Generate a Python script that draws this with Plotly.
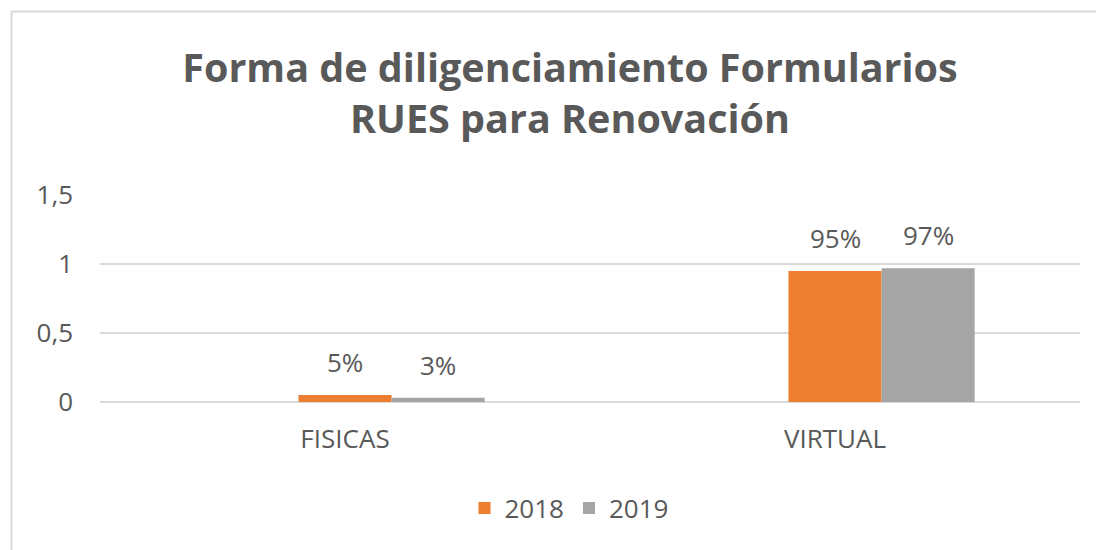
import plotly.graph_objects as go

categories = ["FISICAS", "VIRTUAL"]
series_names = ["2018", "2019"]
values_2018 = [0.05, 0.95]
values_2019 = [0.03, 0.97]
colors = ["#ED7D31", "#A5A5A5"]
y_ticks = [0, 0.5, 1, 1.5]

# page body has an 8px margin; lay the figure out in page pixels minus that
PAD = 8
W, H = 1104 - PAD, 550 - PAD
ML = 100 - PAD
MR = W - (1080 - PAD)
MT = 195 - PAD
MB = H - (402 - PAD)
BAR_W = 0.19
FONT = "Open Sans"
TXT = "#595959"
FS = 26

fig = go.Figure()
all_vals = [values_2018, values_2019]
offsets = [-BAR_W / 2, BAR_W / 2]
for name, vals, col, off in zip(series_names, all_vals, colors, offsets):
    fig.add_trace(go.Bar(
        x=categories, y=vals, name=name, marker=dict(color=col, line=dict(width=0)),
        width=BAR_W, offset=off,
    ))

# data labels
for k, vals in enumerate(all_vals):
    for i, v in enumerate(vals):
        fig.add_annotation(
            x=i + offsets[k] + BAR_W / 2, y=v, xref="x", yref="y",
            text=f"{round(v * 100)}%", showarrow=False,
            yanchor="middle", yshift=33,
            font=dict(family=FONT, size=FS, color=TXT),
        )

pw = W - ML - MR
ph = H - MT - MB
def px_x(p):  # page pixel -> paper
    return (p - PAD - ML) / pw
def px_y(p):
    return (H - MB - (p - PAD)) / ph

border = dict(color="#D9D9D9", width=2)
fig.add_shape(type="line", xref="paper", yref="paper",
              x0=px_x(11.5), x1=px_x(11.5), y0=px_y(11.5), y1=px_y(600), line=border)
fig.add_shape(type="line", xref="paper", yref="paper",
              x0=px_x(11.5), x1=px_x(1150), y0=px_y(11.5), y1=px_y(11.5), line=border)

fig.update_layout(
    width=W, height=H,
    margin=dict(l=ML, r=MR, t=MT, b=MB, autoexpand=False),
    paper_bgcolor="white", plot_bgcolor="white",
    separators=",.",
    title=dict(
        text="<b>Forma de diligenciamiento Formularios<br>RUES para Renovación</b>",
        x=(570 - PAD) / W, xanchor="center", xref="container",
        y=1 - 74 / H, yanchor="top", yref="container",
        font=dict(family=FONT, size=39.5, color=TXT),
    ),
    showlegend=True,
    legend=dict(
        orientation="h", x=px_x(569), xanchor="center", y=px_y(508), yanchor="middle",
        font=dict(family=FONT, size=FS, color=TXT),
        bgcolor="rgba(0,0,0,0)",
    ),
    xaxis=dict(
        type="category", range=[-0.5, 1.5], showgrid=False, showline=False, zeroline=False,
        ticks="", tickfont=dict(family=FONT, size=FS, color=TXT), ticklabelstandoff=19,
    ),
    yaxis=dict(
        range=[0, 1.5], tickvals=y_ticks, showgrid=True, gridcolor="#D9D9D9", gridwidth=1.5,
        zeroline=True, zerolinecolor="#D9D9D9", zerolinewidth=1.5, showline=False,
        ticks="", tickfont=dict(family=FONT, size=FS, color=TXT), ticklabelstandoff=26,
    ),
)

fig.write_html("out.html")
